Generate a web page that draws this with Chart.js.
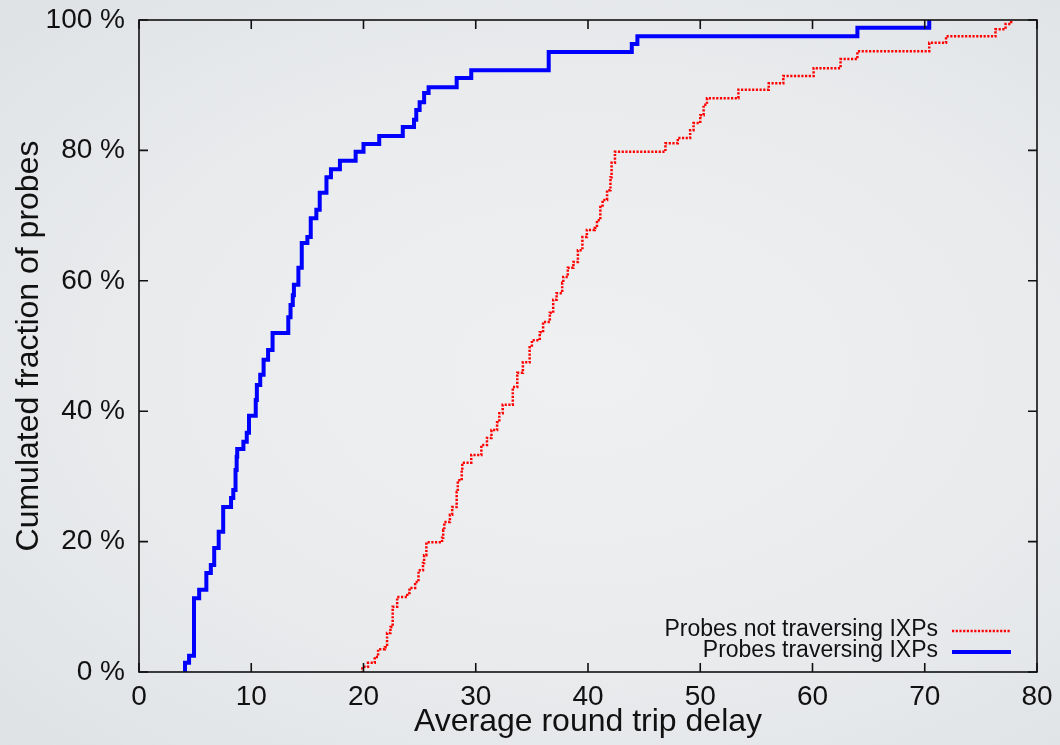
<!DOCTYPE html>
<html>
<head>
<meta charset="utf-8">
<title>Average round trip delay</title>
<script src="https://cdn.jsdelivr.net/npm/chart.js@4.4.0/dist/chart.umd.min.js"></script>
<style>
  html, body { margin: 0; padding: 0; }
  body {
    width: 1060px; height: 745px; overflow: hidden;
    background: radial-gradient(ellipse at 55% 50%, #eff0f2 0%, #e9ebed 55%, #dfe2e5 100%);
  }
  #delayChart { display: block; }
</style>
</head>
<body>
<canvas id="delayChart" width="1060" height="745"></canvas>
<script>
// CDF steps: delay (x) where the fraction jumps to the new value (%)
const notIxpDelay = [19.8, 19.9, 20.4, 21.0, 21.3, 21.9, 22.1, 22.4, 22.6, 23.0, 23.9, 24.1, 24.6, 24.9, 25.3, 25.4, 25.6,
  27.0, 27.1, 27.2, 27.7, 27.9, 28.3, 28.4, 28.75, 28.8, 29.6, 30.5, 31.0, 31.4, 31.9, 32.1, 32.4, 33.3, 33.7, 34.2,
  34.8, 35.0, 35.7, 36.0, 36.6, 36.9, 37.2, 37.7, 37.8, 38.2, 38.7, 39.1, 39.5, 39.9, 40.6, 40.8, 41.1, 41.3, 41.7,
  42.0, 42.1, 42.4, 46.9, 48.0, 49.1, 49.4, 50.0, 50.3, 50.6, 53.4, 56.1, 57.4, 60.1, 62.5, 64.0, 70.4, 71.9, 76.3,
  77.2, 77.7];
const notIxpFraction = [0, 0.8, 1.4, 2.3, 3.5, 3.8, 6.0, 6.9, 10.0, 11.5, 12.1, 12.9, 13.8, 15.6, 16.7, 17.9, 19.9,
  20.6, 21.8, 23.0, 24.1, 25.3, 27.6, 29.4, 31.0, 32.1, 33.3, 34.8, 35.9, 37.1, 38.3, 39.7, 41.0, 43.7, 45.9, 47.5,
  49.8, 50.9, 52.1, 53.7, 55.1, 57.1, 58.1, 59.7, 60.6, 62.0, 62.9, 64.7, 66.7, 67.8, 68.1, 69.3, 71.3, 72.4, 73.9,
  75.9, 78.1, 79.8, 81.1, 81.9, 83.1, 84.2, 85.4, 87.0, 88.0, 89.3, 90.3, 91.4, 92.6, 94.0, 95.2, 96.5, 97.5, 98.6,
  99.4, 100];

const ixpDelay = [4.1, 4.1, 4.46, 4.9, 5.36, 6.0, 6.4, 6.7, 7.1, 7.5, 8.2, 8.4, 8.6, 8.7, 8.75, 9.3, 9.6, 9.8, 10.4,
  10.5, 10.8, 11.1, 11.5, 11.9, 13.3, 13.5, 13.7, 13.8, 14.2, 14.5, 15.0, 15.3, 15.8, 16.1, 16.7, 17.1, 17.9, 19.3,
  20.0, 21.4, 23.5, 24.5, 24.7, 25.0, 25.4, 25.8, 28.3, 29.6, 36.5, 43.9, 44.4, 64.0, 70.4];
const ixpFraction = [0, 1.4, 2.5, 11.3, 12.6, 15.2, 16.4, 19.0, 21.5, 25.3, 26.7, 27.9, 31.0, 33.0, 34.2, 35.3, 36.7,
  39.3, 41.7, 44.0, 45.6, 47.9, 49.4, 52.0, 54.4, 56.3, 57.8, 59.4, 62.0, 65.8, 66.7, 69.6, 70.9, 73.5, 75.9, 77.1,
  78.4, 79.8, 81.0, 82.2, 83.6, 84.7, 86.2, 87.4, 88.8, 89.7, 91.1, 92.3, 95.1, 96.3, 97.5, 98.8, 100];

const seriesLabels = ['Probes not traversing IXPs', 'Probes traversing IXPs'];
const xTickValues = [0, 10, 20, 30, 40, 50, 60, 70, 80];
const yTickValues = [0, 20, 40, 60, 80, 100];

function toPoints(xs, ys) {
  return xs.map((x, i) => ({ x: x, y: ys[i] }));
}

const font = 'Liberation Sans, Arial, Helvetica, sans-serif';

// frame, inward ticks on all four sides, and the gnuplot-like legend
const framePlugin = {
  id: 'frame',
  afterDatasetsDraw(chart) {
    const { ctx, chartArea: a, scales: { x, y } } = chart;
    const tl = 9;
    ctx.save();
    ctx.strokeStyle = '#111';
    ctx.lineWidth = 1.6;
    ctx.strokeRect(a.left, a.top, a.right - a.left, a.bottom - a.top);
    ctx.beginPath();
    xTickValues.forEach(v => {
      const px = x.getPixelForValue(v);
      ctx.moveTo(px, a.bottom); ctx.lineTo(px, a.bottom - tl);
      ctx.moveTo(px, a.top); ctx.lineTo(px, a.top + tl);
    });
    yTickValues.forEach(v => {
      const py = y.getPixelForValue(v);
      ctx.moveTo(a.left, py); ctx.lineTo(a.left + tl, py);
      ctx.moveTo(a.right, py); ctx.lineTo(a.right - tl, py);
    });
    ctx.stroke();

    // legend
    ctx.font = '23px ' + font;
    ctx.textAlign = 'right';
    ctx.textBaseline = 'middle';
    chart.data.datasets.forEach((ds, i) => {
      const rowY = a.bottom - 41 + i * 21;
      ctx.fillStyle = '#111';
      ctx.fillText(ds.label, a.right - 99, rowY - 1);
      ctx.beginPath();
      ctx.strokeStyle = ds.borderColor;
      ctx.lineWidth = ds.borderWidth;
      ctx.setLineDash(ds.borderDash || []);
      ctx.moveTo(a.right - 85, rowY);
      ctx.lineTo(a.right - 26, rowY);
      ctx.stroke();
    });
    ctx.restore();
  }
};

const ctx = document.getElementById('delayChart').getContext('2d');
new Chart(ctx, {
  type: 'line',
  data: {
    datasets: [{
      label: seriesLabels[0],
      data: toPoints(notIxpDelay, notIxpFraction),
      borderColor: '#ff0000',
      borderWidth: 2.5,
      borderDash: [2.2, 1.5],
      stepped: 'before',
      pointRadius: 0,
      fill: false
    }, {
      label: seriesLabels[1],
      data: toPoints(ixpDelay, ixpFraction),
      borderColor: '#0000ff',
      borderWidth: 4,
      stepped: 'before',
      pointRadius: 0,
      fill: false
    }]
  },
  options: {
    responsive: false,
    animation: false,
    layout: { padding: { left: 0, top: 20, right: 23, bottom: 0 } },
    plugins: {
      legend: { display: false },
      tooltip: { enabled: false }
    },
    scales: {
      x: {
        type: 'linear',
        min: 0,
        max: 80,
        afterBuildTicks: s => { s.ticks = xTickValues.map(v => ({ value: v })); },
        afterFit: s => { s.height = 73; s.paddingLeft = 0; s.paddingRight = 0; },
        grid: { display: false, drawTicks: false },
        border: { display: false },
        ticks: { color: '#111', padding: 8, font: { family: font, size: 28 } },
        title: {
          display: true,
          text: 'Average round trip delay',
          color: '#111',
          padding: { top: 0, bottom: 4 },
          font: { family: font, size: 32 }
        }
      },
      y: {
        type: 'linear',
        min: 0,
        max: 100,
        afterBuildTicks: s => { s.ticks = yTickValues.map(v => ({ value: v })); },
        afterFit: s => { s.width = 139; s.paddingTop = 0; s.paddingBottom = 0; },
        grid: { display: false, drawTicks: false },
        border: { display: false },
        ticks: {
          color: '#111',
          padding: 14,
          font: { family: font, size: 28 },
          callback: v => v + ' %'
        },
        title: {
          display: true,
          text: 'Cumulated fraction of probes',
          color: '#111',
          padding: { top: 10, bottom: 0 },
          font: { family: font, size: 32 }
        }
      }
    }
  },
  plugins: [framePlugin]
});
</script>
</body>
</html>
